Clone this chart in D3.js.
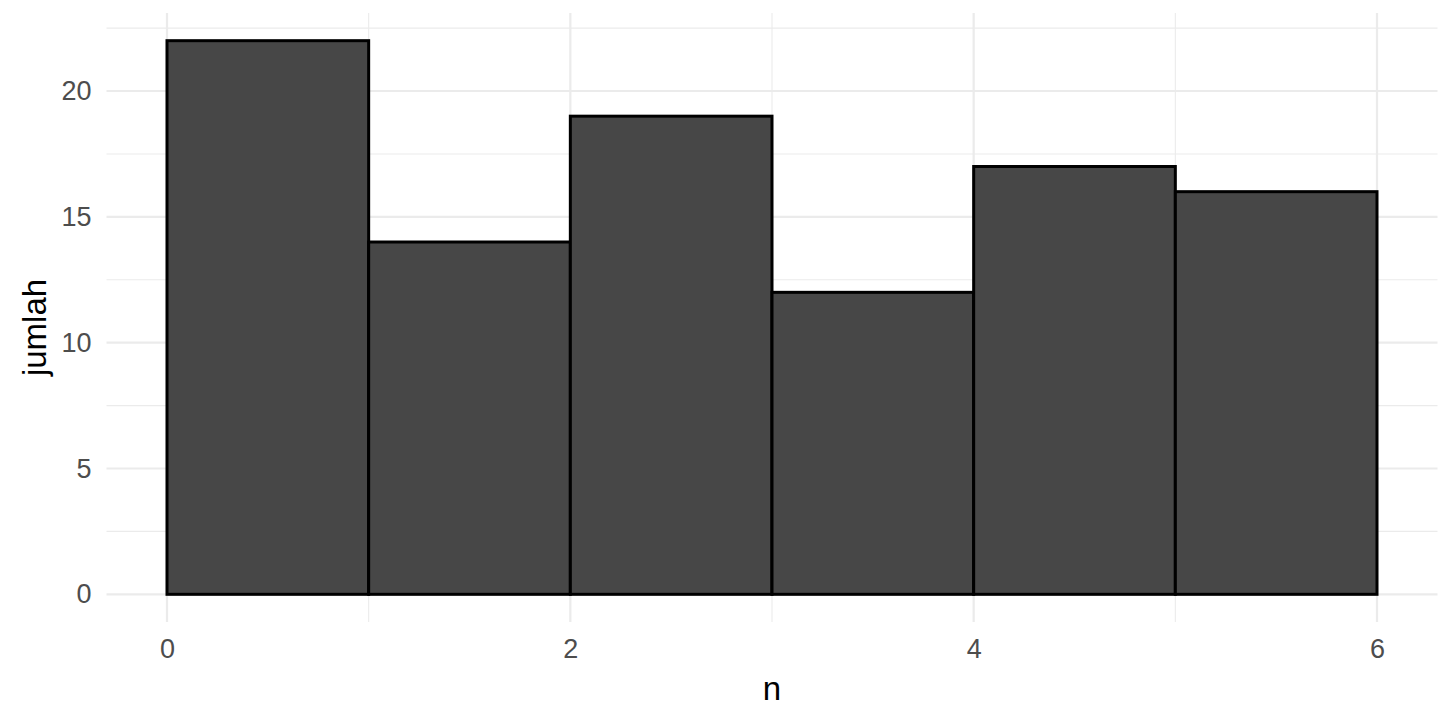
<!DOCTYPE html>
<html>
<head>
<meta charset="utf-8">
<script src="https://cdn.jsdelivr.net/npm/d3@7"></script>
<style>
  body { margin: 0; background: #fff; }
  text { font-family: "Liberation Sans", Arial, sans-serif; }
</style>
</head>
<body>
<div id="wrapper"></div>
<script>
// histogram bins (0-1, 1-2, ...) and their counts
const binStarts = [0, 1, 2, 3, 4, 5];
const binWidth = 1;
const counts = [22, 14, 19, 12, 17, 16];
const xTicks = [0, 2, 4, 6];
const xMinor = [1, 3, 5];
const yTicks = [0, 5, 10, 15, 20];
const yMinor = [2.5, 7.5, 12.5, 17.5, 22.5];
const xTitle = "n";
const yTitle = "jumlah";

function drawHistogram() {
  const dimensions = {
    width: 1456,
    height: 720,
    margin: { top: 13, right: 18.5, bottom: 98, left: 106.5 },
  };
  dimensions.boundedWidth =
    dimensions.width - dimensions.margin.left - dimensions.margin.right;
  dimensions.boundedHeight =
    dimensions.height - dimensions.margin.top - dimensions.margin.bottom;

  const wrapper = d3
    .select("#wrapper")
    .append("svg")
    .attr("width", dimensions.width)
    .attr("height", dimensions.height);

  const bounds = wrapper
    .append("g")
    .attr("transform", `translate(${dimensions.margin.left},${dimensions.margin.top})`);

  // ggplot style 5% expansion
  const xMax = binStarts[binStarts.length - 1] + binWidth;
  const yMax = d3.max(counts);
  const xScale = d3
    .scaleLinear()
    .domain([-0.05 * xMax, xMax * 1.05])
    .range([0, dimensions.boundedWidth]);
  const yScale = d3
    .scaleLinear()
    .domain([-0.05 * yMax, yMax * 1.05])
    .range([dimensions.boundedHeight, 0]);

  const grid = bounds.append("g").attr("stroke", "#ebebeb");

  grid.selectAll(".y-minor").data(yMinor).join("line")
    .attr("x1", 0).attr("x2", dimensions.boundedWidth)
    .attr("y1", yScale).attr("y2", yScale)
    .attr("stroke-width", 1.1);
  grid.selectAll(".x-minor").data(xMinor).join("line")
    .attr("y1", 0).attr("y2", dimensions.boundedHeight)
    .attr("x1", xScale).attr("x2", xScale)
    .attr("stroke-width", 1.1);
  grid.selectAll(".y-major").data(yTicks).join("line")
    .attr("x1", 0).attr("x2", dimensions.boundedWidth)
    .attr("y1", yScale).attr("y2", yScale)
    .attr("stroke-width", 2.2);
  grid.selectAll(".x-major").data(xTicks).join("line")
    .attr("y1", 0).attr("y2", dimensions.boundedHeight)
    .attr("x1", xScale).attr("x2", xScale)
    .attr("stroke-width", 2.2);

  const bins = binStarts.map((x0, i) => ({ x0, x1: x0 + binWidth, count: counts[i] }));

  bounds.append("g")
    .selectAll("rect")
    .data(bins)
    .join("rect")
    .attr("x", (d) => xScale(d.x0))
    .attr("y", (d) => yScale(d.count))
    .attr("width", (d) => xScale(d.x1) - xScale(d.x0))
    .attr("height", (d) => yScale(0) - yScale(d.count))
    .attr("fill", "#474747")
    .attr("stroke", "#000")
    .attr("stroke-width", 3);

  // axes: labels only, no lines (theme_minimal)
  const xAxis = bounds.append("g")
    .attr("transform", `translate(0,${dimensions.boundedHeight})`)
    .call(
      d3.axisBottom(xScale).tickValues(xTicks).tickFormat(d3.format("d"))
        .tickSize(0).tickPadding(17)
    );
  const yAxis = bounds.append("g")
    .call(
      d3.axisLeft(yScale).tickValues(yTicks).tickFormat(d3.format("d"))
        .tickSize(0).tickPadding(15)
    );
  [xAxis, yAxis].forEach((axis) => {
    axis.select(".domain").remove();
    axis.selectAll("text")
      .attr("fill", "#4d4d4d")
      .style("font-size", "27px")
      .style("font-family", '"Liberation Sans", Arial, sans-serif');
  });

  wrapper.append("text")
    .attr("x", dimensions.margin.left + dimensions.boundedWidth / 2)
    .attr("y", 700)
    .attr("text-anchor", "middle")
    .style("font-size", "33px")
    .attr("fill", "#000")
    .text(xTitle);

  wrapper.append("text")
    .attr("transform", `translate(46,${dimensions.margin.top + dimensions.boundedHeight / 2 + 10}) rotate(-90)`)
    .attr("text-anchor", "middle")
    .style("font-size", "33px")
    .attr("fill", "#000")
    .text(yTitle);
}

drawHistogram();
</script>
</body>
</html>
